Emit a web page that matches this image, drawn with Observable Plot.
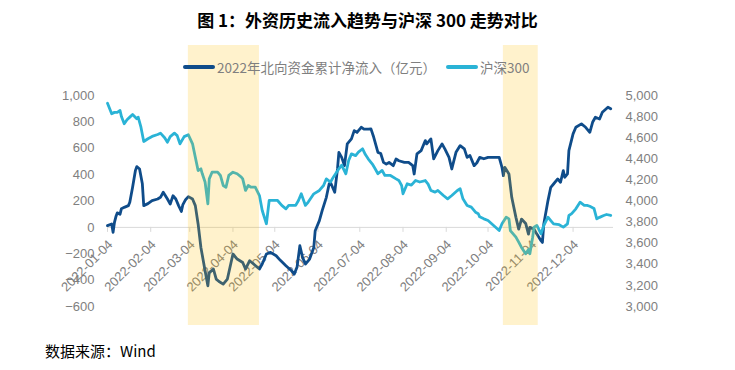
<!DOCTYPE html>
<html><head><meta charset="utf-8">
<script src="https://cdn.jsdelivr.net/npm/d3@7"></script>
<script src="https://cdn.jsdelivr.net/npm/@observablehq/plot@0.6"></script>
<style>
body{margin:0;background:#fff;}
#wrap{position:relative;width:735px;height:370px;overflow:hidden;font-family:"Noto Sans CJK SC",sans-serif;background:#fff;}
#title{position:absolute;top:10px;left:0;width:735px;text-align:center;font-size:17px;line-height:20px;font-weight:bold;color:#000;}
#legend{position:absolute;top:58px;left:183px;display:flex;align-items:center;font-size:13.5px;line-height:18px;color:#7f7f7f;z-index:2;white-space:nowrap}
#legend .item{display:flex;align-items:center;margin-right:10px}
#legend .sw{display:inline-block;width:32px;height:4px;border-radius:2px;margin-right:2px}
#chart{position:absolute;top:45px;left:0}
#caption{position:absolute;left:45px;top:341px;font-size:15px;line-height:20px;color:#000}
</style></head>
<body>
<div id="wrap">
  <div id="title">图 1：外资历史流入趋势与沪深 300 走势对比</div>
  <div id="legend"></div>
  <div id="chart"></div>
  <div id="caption">数据来源：Wind</div>
</div>
<script>
// ---- data ----
const seriesNames = ["2022年北向资金累计净流入（亿元）", "沪深300"];
const seriesColors = ["#0f4c8a", "#2ab3d6"];

const northDates = ["2022-01-04","2022-01-07","2022-01-08","2022-01-09","2022-01-10","2022-01-11","2022-01-13","2022-01-14","2022-01-16","2022-01-19",
"2022-01-20","2022-01-22","2022-01-24","2022-01-25","2022-01-27","2022-01-29","2022-01-30","2022-02-02","2022-02-05","2022-02-09",
"2022-02-11","2022-02-13","2022-02-14","2022-02-16","2022-02-18","2022-02-20","2022-02-22","2022-02-24","2022-02-26","2022-02-27",
"2022-03-01","2022-03-03","2022-03-06","2022-03-08","2022-03-10","2022-03-12","2022-03-15","2022-03-17","2022-03-18","2022-03-21",
"2022-03-23","2022-03-25","2022-03-28","2022-03-31","2022-04-04","2022-04-07","2022-04-11","2022-04-13","2022-04-16","2022-04-19",
"2022-04-23","2022-04-25","2022-04-28","2022-05-01","2022-05-05","2022-05-08","2022-05-12","2022-05-16","2022-05-18","2022-05-20",
"2022-05-22","2022-05-24","2022-05-26","2022-05-29","2022-06-01","2022-06-02","2022-06-05","2022-06-07","2022-06-10","2022-06-12",
"2022-06-13","2022-06-16","2022-06-18","2022-06-19","2022-06-21","2022-06-23","2022-06-25","2022-06-28","2022-06-30","2022-07-02",
"2022-07-05","2022-07-07","2022-07-10","2022-07-12","2022-07-14","2022-07-17","2022-07-19","2022-07-21","2022-07-23","2022-07-25",
"2022-07-28","2022-07-30","2022-08-01","2022-08-05","2022-08-08","2022-08-11","2022-08-12","2022-08-14","2022-08-17","2022-08-18",
"2022-08-20","2022-08-21","2022-08-24","2022-08-26","2022-08-29","2022-09-01","2022-09-03","2022-09-06","2022-09-08","2022-09-11",
"2022-09-14","2022-09-17","2022-09-19","2022-09-21","2022-09-24","2022-09-26","2022-09-28","2022-10-01","2022-10-04","2022-10-08",
"2022-10-12","2022-10-14","2022-10-15","2022-10-16","2022-10-19","2022-10-21","2022-10-24","2022-10-26","2022-10-28","2022-10-31",
"2022-11-02","2022-11-03","2022-11-06","2022-11-08","2022-11-11","2022-11-12","2022-11-13","2022-11-16","2022-11-18","2022-11-20",
"2022-11-23","2022-11-25","2022-11-27","2022-11-28","2022-11-30","2022-12-01","2022-12-04","2022-12-06","2022-12-10","2022-12-13",
"2022-12-16","2022-12-18","2022-12-20","2022-12-23","2022-12-25","2022-12-29","2022-12-31"];
const northValues = [13,26,-38,38,80,110,100,142,152,165,
190,304,430,461,443,330,165,180,203,215,
228,266,250,215,177,240,215,165,121,170,
210,233,215,165,26,-152,-329,-443,-342,-316,
-392,-410,-430,-392,-202,-240,-266,-316,-253,-280,
-316,-278,-202,-190,-215,-250,-291,-329,-354,-300,
-139,-230,-278,-240,-152,-25,51,127,228,329,
340,266,443,569,531,468,633,671,734,720,
759,745,745,747,683,569,560,493,480,493,
468,519,505,493,493,468,405,557,582,607,
658,633,671,519,582,633,595,531,443,569,
620,595,531,545,468,490,531,520,531,531,
531,455,392,455,405,228,76,-13,63,30,
-51,0,-13,-51,-101,-114,26,203,304,329,
367,342,430,380,405,582,709,759,785,759,
721,797,835,822,873,911,899];

const csiDates = ["2022-01-04","2022-01-07","2022-01-09","2022-01-11","2022-01-13","2022-01-14","2022-01-16","2022-01-18","2022-01-20","2022-01-22",
"2022-01-25","2022-01-26","2022-01-28","2022-01-30","2022-02-02","2022-02-05","2022-02-09","2022-02-11","2022-02-14","2022-02-16",
"2022-02-18","2022-02-21","2022-02-23","2022-02-24","2022-02-25","2022-02-28","2022-03-03","2022-03-06","2022-03-08","2022-03-10",
"2022-03-12","2022-03-13","2022-03-15","2022-03-17","2022-03-18","2022-03-20","2022-03-24","2022-03-26","2022-03-28","2022-03-30",
"2022-04-01","2022-04-04","2022-04-07","2022-04-10","2022-04-11","2022-04-13","2022-04-15","2022-04-17","2022-04-20","2022-04-23",
"2022-04-25","2022-04-28","2022-04-30","2022-05-02","2022-05-06","2022-05-09","2022-05-12","2022-05-14","2022-05-16","2022-05-19",
"2022-05-21","2022-05-23","2022-05-26","2022-05-28","2022-06-01","2022-06-05","2022-06-08","2022-06-10","2022-06-13","2022-06-15",
"2022-06-19","2022-06-21","2022-06-24","2022-06-26","2022-06-28","2022-07-01","2022-07-03","2022-07-06","2022-07-08","2022-07-10",
"2022-07-13","2022-07-15","2022-07-17","2022-07-20","2022-07-22","2022-07-26","2022-07-30","2022-08-01","2022-08-03","2022-08-04",
"2022-08-07","2022-08-10","2022-08-13","2022-08-16","2022-08-20","2022-08-22","2022-08-24","2022-08-27","2022-08-29","2022-09-02",
"2022-09-05","2022-09-08","2022-09-12","2022-09-14","2022-09-16","2022-09-19","2022-09-22","2022-09-25","2022-09-27","2022-09-28",
"2022-10-01","2022-10-04","2022-10-08","2022-10-12","2022-10-14","2022-10-17","2022-10-19","2022-10-20","2022-10-24","2022-10-26",
"2022-10-28","2022-10-31","2022-11-02","2022-11-03","2022-11-05","2022-11-06","2022-11-08","2022-11-11","2022-11-13","2022-11-16",
"2022-11-18","2022-11-20","2022-11-24","2022-11-27","2022-11-30","2022-12-01","2022-12-03","2022-12-06","2022-12-09","2022-12-12",
"2022-12-14","2022-12-16","2022-12-19","2022-12-21","2022-12-23","2022-12-26","2022-12-28","2022-12-31"];
const csiValues = [4927,4827,4840,4840,4858,4800,4732,4770,4795,4820,
4780,4795,4700,4564,4590,4612,4630,4643,4600,4557,
4610,4643,4620,4580,4542,4610,4628,4542,4415,4289,
4305,4258,4180,3974,4210,4273,4273,4242,4147,4130,
4242,4273,4258,4226,4210,4100,4147,4131,4131,4052,
3910,3784,4005,4005,4005,3958,3926,3958,3958,3958,
4005,4068,3958,3990,4068,4100,4147,4210,4180,4226,
4305,4340,4258,4384,4447,4430,4463,4495,4440,4400,
4350,4305,4258,4290,4242,4242,4210,4195,4147,4068,
4163,4150,4194,4180,4194,4160,4100,4084,4100,4052,
4021,4052,4100,4116,4021,3958,3942,3894,3879,3850,
3831,3815,3768,3720,3784,3847,3830,3720,3657,3610,
3560,3500,3540,3500,3657,3752,3768,3689,3768,3847,
3815,3784,3775,3752,3784,3863,3880,3926,3989,3958,
3958,3950,3930,3831,3845,3863,3872,3863];

const xTickLabels = ["2022-01-04","2022-02-04","2022-03-04","2022-04-04","2022-05-04","2022-06-04",
"2022-07-04","2022-08-04","2022-09-04","2022-10-04","2022-11-04","2022-12-04"];
const leftTicks = [-600,-400,-200,0,200,400,600,800,1000];
const rightTicks = [3000,3200,3400,3600,3800,4000,4200,4400,4600,4800,5000];
const bandStarts = ["2022-03-03","2022-10-15"];
const bandEnds = ["2022-04-23","2022-11-09"];
const xDomain = ["2022-01-04","2023-01-02"];

// ---- build ----
const parse = d3.utcParse("%Y-%m-%d");
const north = northDates.map((d, i) => ({date: parse(d), value: northValues[i]}));
const csi = csiDates.map((d, i) => ({date: parse(d), value: csiValues[i]}));
const bands = bandStarts.map((s, i) => ({start: parse(s), end: parse(bandEnds[i])}));
const leftDomain = [leftTicks[0], leftTicks[leftTicks.length - 1]];
const rightDomain = [rightTicks[0], rightTicks[rightTicks.length - 1]];
const toLeft = v => leftDomain[0] + (v - rightDomain[0]) * (leftDomain[1] - leftDomain[0]) / (rightDomain[1] - rightDomain[0]);
const toRight = v => rightDomain[0] + (v - leftDomain[0]) * (rightDomain[1] - rightDomain[0]) / (leftDomain[1] - leftDomain[0]);
const fmt = d3.format(",");

const legend = document.getElementById("legend");
seriesNames.forEach((n, i) => {
  const it = document.createElement("span");
  it.className = "item";
  it.innerHTML = `<span class="sw" style="background:${seriesColors[i]}"></span><span>${n}</span>`;
  legend.appendChild(it);
});

const chart = Plot.plot({
  width: 735,
  height: 290,
  marginLeft: 107,
  marginRight: 122,
  marginTop: 50,
  marginBottom: 29,
  style: {fontFamily: "'Liberation Sans', Arial, sans-serif", fontSize: "13px", color: "#808080", background: "transparent", overflow: "visible"},
  x: {type: "utc", domain: xDomain.map(parse), axis: null},
  y: {domain: leftDomain},
  marks: [
    Plot.ruleY([0], {stroke: "#d9d9d9", strokeWidth: 1}),
    Plot.ruleX(xTickLabels, {x: d => parse(d), y1: d => 0, y2: d => 0, insetBottom: -5, stroke: "#d9d9d9"}),
    Plot.text(xTickLabels, {x: d => parse(d), y: d => 0, text: d => d, rotate: -45, textAnchor: "end", dx: 3, dy: 15, fill: "#808080", fontSize: 13}),
    Plot.axisY(leftTicks, {anchor: "left", tickSize: 0, tickPadding: 13, tickFormat: fmt, label: null, fontSize: 13}),
    Plot.axisY(rightTicks.map(toLeft), {anchor: "right", tickSize: 0, tickPadding: 12, tickFormat: d => fmt(Math.round(toRight(d))), label: null, fontSize: 13}),
    Plot.line(north, {x: "date", y: "value", stroke: seriesColors[0], strokeWidth: 2.8, curve: "linear"}),
    Plot.line(csi, {x: "date", y: d => toLeft(d.value), stroke: seriesColors[1], strokeWidth: 2.8, curve: "linear"}),
    Plot.rect(bands, {x1: "start", x2: "end", fill: "#FFC000", fillOpacity: 0.2, insetTop: -50, insetBottom: -19})
  ]
});
document.getElementById("chart").appendChild(chart);
</script>
</body></html>
